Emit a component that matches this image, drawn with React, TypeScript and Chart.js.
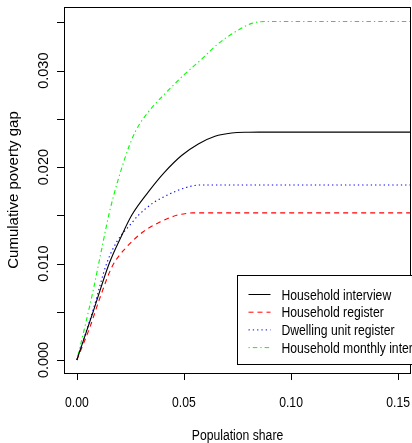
import React, { useEffect, useRef } from "react";
import { Chart, registerables } from "chart.js";

Chart.register(...registerables);

// ---- data ----
const interviewX = [0, 0.0076, 0.0151, 0.0205, 0.0256, 0.0333, 0.0411, 0.0489, 0.0567, 0.0645, 0.0723, 0.080, 0.085, 0.156];
const interviewY = [0, 0.0050, 0.0100, 0.0127, 0.0150, 0.0174, 0.0195, 0.0212, 0.0224, 0.0232, 0.02354, 0.02362, 0.02363, 0.02363];

const registerX = [0, 0.0061, 0.0107, 0.0165, 0.0232, 0.031, 0.0388, 0.0466, 0.0513, 0.054, 0.156];
const registerY = [0, 0.0034, 0.0064, 0.0097, 0.0117, 0.0133, 0.0143, 0.0150, 0.0152, 0.01525, 0.01525];

const dwellingX = [0, 0.0076, 0.0139, 0.0185, 0.0256, 0.0287, 0.0357, 0.0396, 0.0473, 0.0551, 0.059, 0.156];
const dwellingY = [0, 0.0052, 0.0100, 0.0122, 0.0142, 0.0150, 0.0163, 0.0168, 0.0176, 0.0181, 0.01815, 0.01815];

const monthlyX = [0, 0.0037, 0.0076, 0.0115, 0.0154, 0.0224, 0.0271, 0.0333, 0.0411, 0.0497, 0.0583, 0.066, 0.0738, 0.0816, 0.0894, 0.156];
const monthlyY = [0, 0.0034, 0.0072, 0.0114, 0.0155, 0.0209, 0.0236, 0.0257, 0.0276, 0.0295, 0.0312, 0.0328, 0.0340, 0.0349, 0.0351, 0.0351];

const seriesNames = ["Household interview", "Household register", "Dwelling unit register", "Household monthly interview"];

const xTicks = [0, 0.05, 0.1, 0.15];
const xTickLabels = ["0.00", "0.05", "0.10", "0.15"];
const yTicks = [0, 0.005, 0.01, 0.015, 0.02, 0.025, 0.03, 0.035];
const yTickLabels = ["0.000", "", "0.010", "", "0.020", "", "0.030", ""];

const xTitle = "Population share";
const yTitle = "Cumulative poverty gap";

// ---- styling ----
const colors = ["#000000", "#FF0000", "#0000FF", "#00FF00"];
const dashes = [[], [5, 4], [1.3, 3], [1.3, 3, 4.5, 3]];
const FONT = '"Liberation Sans", Arial, Helvetica, sans-serif';
const SX = 0.87;

const W = 412;
const H = 443;

function zip(xs: number[], ys: number[]) {
  return xs.map((x, i) => ({ x, y: ys[i] }));
}

function text(ctx: CanvasRenderingContext2D, s: string, x: number, y: number, size: number, align: CanvasTextAlign, rotate: boolean, sx: number) {
  ctx.save();
  ctx.translate(x, y);
  ctx.scale(sx, 1);
  if (rotate) ctx.rotate(-Math.PI / 2);
  ctx.font = `${size}px ${FONT}`;
  ctx.fillStyle = "#000";
  ctx.textAlign = align;
  ctx.textBaseline = "alphabetic";
  ctx.fillText(s, 0, 0);
  ctx.restore();
}

const rAxesPlugin = {
  id: "rAxes",
  afterDatasetsDraw(chart: any) {
    const ctx: CanvasRenderingContext2D = chart.ctx;
    const a = chart.chartArea;
    const xs = chart.scales.x;
    const ys = chart.scales.y;
    ctx.save();
    ctx.strokeStyle = "#000";
    ctx.lineWidth = 1;
    ctx.setLineDash([]);
    // box
    ctx.strokeRect(Math.round(a.left) + 0.5, Math.round(a.top) + 0.5, Math.round(a.right - a.left) - 1, Math.round(a.bottom - a.top));
    // x axis
    ctx.beginPath();
    xTicks.forEach((v) => {
      const px = Math.round(xs.getPixelForValue(v)) + 0.5;
      ctx.moveTo(px, a.bottom);
      ctx.lineTo(px, a.bottom + 7);
    });
    // y axis
    yTicks.forEach((v) => {
      const py = Math.round(ys.getPixelForValue(v)) + 0.5;
      ctx.moveTo(a.left, py);
      ctx.lineTo(a.left - 7, py);
    });
    ctx.stroke();
    xTicks.forEach((v, i) => {
      text(ctx, xTickLabels[i], xs.getPixelForValue(v), a.bottom + 34, 14, "center", false, SX);
    });
    yTicks.forEach((v, i) => {
      if (yTickLabels[i]) text(ctx, yTickLabels[i], a.left - 16, ys.getPixelForValue(v), 14.5, "center", true, 1);
    });
    text(ctx, xTitle, (a.left + a.right) / 2, a.bottom + 67, 14, "center", false, SX);
    text(ctx, yTitle, 18, (a.top + a.bottom) / 2, 15, "center", true, 1);

    // legend
    const lx = Math.round(xs.getPixelForValue(0.0748)) + 0.5;
    const ly = Math.round(ys.getPixelForValue(0.0088)) + 0.5;
    ctx.fillStyle = "#fff";
    ctx.fillRect(lx, ly, chart.width, 89);
    ctx.strokeStyle = "#000";
    ctx.strokeRect(lx, ly, chart.width, 89);
    seriesNames.forEach((name, i) => {
      const cy = ly + 19 + i * 17.7;
      ctx.beginPath();
      ctx.strokeStyle = colors[i];
      ctx.setLineDash(dashes[i]);
      ctx.moveTo(lx + 11, cy);
      ctx.lineTo(lx + 33, cy);
      ctx.stroke();
      text(ctx, name, lx + 44, cy + 5, 14, "left", false, SX);
    });
    ctx.restore();
  },
};

export default function App() {
  const ref = useRef<HTMLCanvasElement | null>(null);
  useEffect(() => {
    if (!ref.current) return;
    const series = [zip(interviewX, interviewY), zip(registerX, registerY), zip(dwellingX, dwellingY), zip(monthlyX, monthlyY)];
    const chart = new Chart(ref.current, {
      type: "line",
      data: {
        datasets: series.map((d, i) => ({
          label: seriesNames[i],
          data: d,
          borderColor: colors[i],
          borderWidth: 1.1,
          borderDash: dashes[i],
          pointRadius: 0,
          fill: false,
          cubicInterpolationMode: "monotone" as const,
        })),
      },
      options: {
        responsive: false,
        animation: false,
        devicePixelRatio: 1,
        layout: { padding: { left: 64, top: 7, right: 1, bottom: 70 } },
        plugins: { legend: { display: false }, tooltip: { enabled: false } },
        scales: {
          x: { type: "linear", min: -0.006, max: 0.156, display: false },
          y: { type: "linear", min: -0.00135, max: 0.0366, display: false },
        },
      },
      plugins: [rAxesPlugin],
    });
    return () => chart.destroy();
  }, []);
  return (
    <div style={{ position: "fixed", left: 0, top: 0, width: W, height: H, overflow: "hidden", background: "#fff" }}>
      <canvas ref={ref} width={W} height={H} style={{ width: W, height: H, display: "block" }} />
    </div>
  );
}
